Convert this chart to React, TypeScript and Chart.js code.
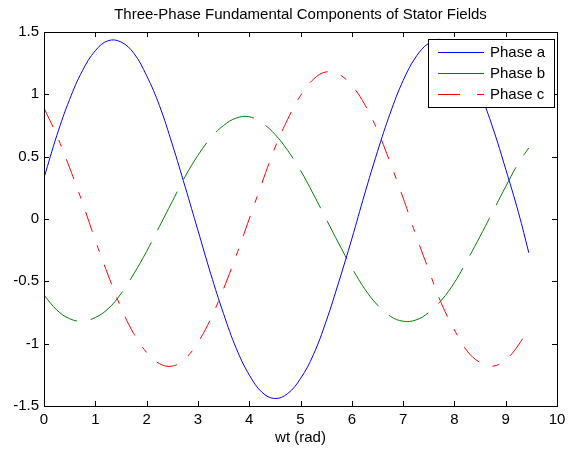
import React, { useEffect, useRef } from "react";
import { Chart, registerables } from "chart.js";

Chart.register(...registerables);

const TITLE = "Three-Phase Fundamental Components of Stator Fields";
const X_LABEL = "wt (rad)";
const SERIES_NAMES = ["Phase a", "Phase b", "Phase c"];
const X_TICKS = [0, 1, 2, 3, 4, 5, 6, 7, 8, 9, 10];
const Y_TICKS = [-1.5, -1, -0.5, 0, 0.5, 1, 1.5];

const wt = [
  0, 0.25, 0.5, 0.75, 1.0, 1.25, 1.5, 1.75, 2.0, 2.25, 2.5, 2.75, 3.0, 3.25,
  3.5, 3.75, 4.0, 4.25, 4.5, 4.75, 5.0, 5.25, 5.5, 5.75, 6.0, 6.25, 6.5, 6.75,
  7.0, 7.25, 7.5, 7.75, 8.0, 8.25, 8.5, 8.75, 9.0, 9.25, 9.45,
];

const phaseA = [
  0.33, 0.67, 0.96, 1.19, 1.35, 1.43, 1.42, 1.33, 1.15, 0.91, 0.6, 0.26, -0.09,
  -0.44, -0.76, -1.04, -1.25, -1.39, -1.44, -1.4, -1.28, -1.09, -0.82, -0.5,
  -0.16, 0.2, 0.54, 0.85, 1.11, 1.3, 1.41, 1.44, 1.38, 1.23, 1.01, 0.73, 0.4,
  0.05, -0.27,
];

const phaseB = [
  -0.61, -0.73, -0.8, -0.82, -0.79, -0.72, -0.6, -0.44, -0.26, -0.06, 0.14,
  0.34, 0.51, 0.65, 0.75, 0.81, 0.82, 0.77, 0.68, 0.55, 0.39, 0.2, 0.0, -0.2,
  -0.39, -0.56, -0.69, -0.78, -0.82, -0.81, -0.75, -0.65, -0.51, -0.33, -0.14,
  0.06, 0.26, 0.45, 0.57,
];

const phaseC = [
  0.89, 0.67, 0.41, 0.13, -0.17, -0.45, -0.71, -0.92, -1.07, -1.16, -1.18,
  -1.12, -0.99, -0.8, -0.56, -0.29, 0.0, 0.29, 0.57, 0.8, 0.99, 1.12, 1.18,
  1.16, 1.07, 0.92, 0.71, 0.45, 0.17, -0.13, -0.41, -0.68, -0.89, -1.06, -1.15,
  -1.18, -1.13, -1.01, -0.87,
];

const COLORS = ["#0000ff", "#008000", "#ff0000"];
const DASHES: number[][] = [[], [43, 14], [21, 14, 7, 14]];
const FONT = '"Liberation Sans", Arial, Helvetica, sans-serif';

const W = 571;
const H = 451;

const framePlugin = {
  id: "matlabFrame",
  afterDraw(chart: any) {
    const { ctx, chartArea, scales } = chart;
    const { left, right, top, bottom } = chartArea;
    ctx.save();
    ctx.strokeStyle = "#000";
    ctx.lineWidth = 1;
    ctx.setLineDash([]);
    ctx.strokeRect(Math.round(left) + 0.5, Math.round(top) + 0.5, Math.round(right - left), Math.round(bottom - top));
    const tl = 5;
    ctx.beginPath();
    X_TICKS.forEach((v) => {
      const px = Math.round(scales.x.getPixelForValue(v)) + 0.5;
      ctx.moveTo(px, bottom);
      ctx.lineTo(px, bottom - tl);
      ctx.moveTo(px, top);
      ctx.lineTo(px, top + tl);
    });
    Y_TICKS.forEach((v) => {
      const py = Math.round(scales.y.getPixelForValue(v)) + 0.5;
      ctx.moveTo(left, py);
      ctx.lineTo(left + tl, py);
      ctx.moveTo(right, py);
      ctx.lineTo(right - tl, py);
    });
    ctx.stroke();

    ctx.fillStyle = "#000";
    ctx.font = `15px ${FONT}`;
    ctx.textAlign = "center";
    ctx.textBaseline = "alphabetic";
    const cx = (left + right) / 2;
    ctx.fillText(TITLE, cx, 19);
    ctx.fillText(X_LABEL, cx, 442);

    const lx = 428.5;
    const ly = 39.5;
    const lw = 126;
    const lh = 68;
    ctx.fillStyle = "#fff";
    ctx.fillRect(lx, ly, lw, lh);
    ctx.strokeStyle = "#000";
    ctx.lineWidth = 1;
    ctx.strokeRect(lx, ly, lw, lh);
    const rows = [52, 73, 94];
    SERIES_NAMES.forEach((name, i) => {
      const y = rows[i] + 0.5;
      ctx.strokeStyle = COLORS[i];
      ctx.lineWidth = 1;
      ctx.setLineDash(i === 2 ? [22, 17, 7, 20] : []);
      ctx.beginPath();
      ctx.moveTo(438, y);
      ctx.lineTo(484, y);
      ctx.stroke();
      ctx.setLineDash([]);
      ctx.fillStyle = "#000";
      ctx.textAlign = "left";
      ctx.textBaseline = "middle";
      ctx.font = `15px ${FONT}`;
      ctx.fillText(name, 490, y);
    });
    ctx.restore();
  },
};

export default function App() {
  const canvasRef = useRef<HTMLCanvasElement | null>(null);

  useEffect(() => {
    const canvas = canvasRef.current;
    if (!canvas) return;
    const series = [phaseA, phaseB, phaseC];
    const chart = new Chart(canvas, {
      type: "line",
      data: {
        datasets: series.map((vals, i) => ({
          label: SERIES_NAMES[i],
          data: wt.map((x, j) => ({ x, y: vals[j] })),
          borderColor: COLORS[i],
          backgroundColor: COLORS[i],
          borderWidth: 1,
          borderDash: DASHES[i],
          pointRadius: 0,
          fill: false,
          tension: 0.4,
        })),
      },
      options: {
        responsive: false,
        animation: false,
        devicePixelRatio: 1,
        layout: { padding: { left: 0, right: 14, top: 32, bottom: 0 } },
        plugins: {
          legend: { display: false },
          title: { display: false },
          tooltip: { enabled: false },
        },
        scales: {
          x: {
            type: "linear",
            min: 0,
            max: 10,
            afterBuildTicks: (scale: any) => {
              scale.ticks = X_TICKS.map((v) => ({ value: v }));
            },
            afterFit: (scale: any) => {
              scale.height = 45;
            },
            ticks: {
              color: "#000",
              font: { family: FONT, size: 15 },
              padding: 5,
              maxRotation: 0,
              autoSkip: false,
              callback: (v: any) => String(v),
            },
            grid: { display: false, drawTicks: false },
            border: { display: false },
          },
          y: {
            type: "linear",
            min: -1.5,
            max: 1.5,
            afterBuildTicks: (scale: any) => {
              scale.ticks = Y_TICKS.map((v) => ({ value: v }));
            },
            afterFit: (scale: any) => {
              scale.width = 44;
            },
            ticks: {
              color: "#000",
              font: { family: FONT, size: 15 },
              padding: 5,
              autoSkip: false,
              callback: (v: any) => String(v),
            },
            grid: { display: false, drawTicks: false },
            border: { display: false },
          },
        },
      },
      plugins: [framePlugin],
    });
    return () => chart.destroy();
  }, []);

  return (
    <div style={{ position: "absolute", left: 0, top: 0, width: W, height: H, background: "#fff" }}>
      <canvas ref={canvasRef} width={W} height={H} style={{ width: W, height: H, display: "block" }} />
    </div>
  );
}
